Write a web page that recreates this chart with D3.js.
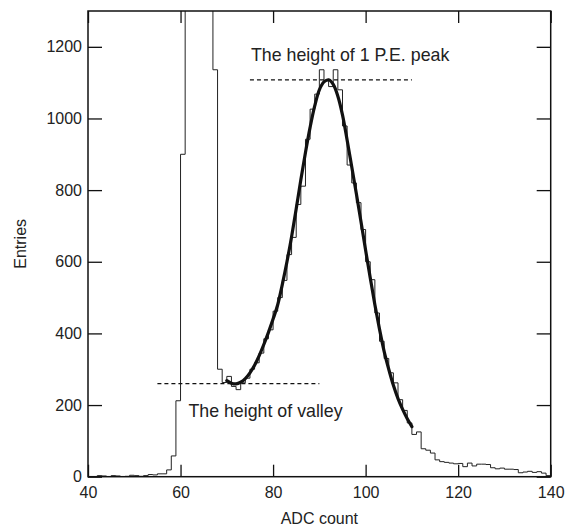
<!DOCTYPE html>
<html>
<head>
<meta charset="utf-8">
<script src="https://cdn.jsdelivr.net/npm/d3@7"></script>
<style>
  body { margin: 0; background: #fff; }
  text { font-family: "Liberation Sans", Arial, sans-serif; fill: #222; }
</style>
</head>
<body>
<div id="chart"></div>
<script>
// histogram: one bin per ADC count, first bin starts at 40
const firstBin = 40;
const counts = [
  0, 0, 3, 2, 0, 3, 2, 0, 1, 4,            // 40-49
  3, 1, 3, 6, 5, 8, 8, 19, 58, 212,        // 50-59
  900, 2600, 6800, 9500, 8200, 5100, 2400, 1136, 300, 263, // 60-69
  280, 252, 243, 262, 275, 300, 318, 345, 385, 410,        // 70-79
  462, 500, 548, 620, 668, 760, 811, 942, 1026, 1068,      // 80-89
  1136, 1105, 1089, 1136, 1080, 979, 870, 820, 765, 690,   // 90-99
  600, 550, 457, 378, 330, 290, 262, 215, 185, 150,        // 100-109
  118, 125, 78, 74, 66, 47, 42, 40, 38, 36,                // 110-119
  37, 28, 38, 30, 35, 35, 34, 25, 22, 24,                  // 120-129
  21, 21, 20, 11, 13, 15, 12, 14, 10, 3                    // 130-139
];

// fitted curve
const fitAdc = [70, 71, 72, 73, 74, 75, 76, 77, 78, 79, 80, 81, 82, 83, 84, 85, 86, 87, 88, 89,
  90, 91, 92, 93, 94, 95, 96, 97, 98, 99, 100, 101, 102, 103, 104, 105, 106, 107, 108, 109, 110];
const fitValue = [268, 261, 259, 264, 274, 290, 311, 338, 369, 403, 440, 480, 537, 600, 670, 748, 829, 905, 975, 1035,
  1080, 1102, 1108, 1095, 1062, 1010, 940, 865, 790, 712, 632, 555, 480, 412, 350, 300, 255, 218, 188, 162, 140];

// dashed reference lines
const peakLine = { from: 75, to: 110, value: 1108 };
const valleyLine = { from: 55, to: 90, value: 260 };

const xTicks = [40, 60, 80, 100, 120, 140];
const yTicks = [0, 200, 400, 600, 800, 1000, 1200];

const w = 568, h = 529;
const mLeft = 88, mRight = 550.7, mTop = 11, mBottom = 476.7;

const x = d3.scaleLinear().domain([40, 140]).range([mLeft, mRight]);
const y = d3.scaleLinear().domain([0, 1300]).range([mBottom, mTop]);

const svg = d3.select("#chart").append("svg")
  .attr("width", w)
  .attr("height", h);

svg.append("clipPath").attr("id", "plotclip")
  .append("rect")
  .attr("x", mLeft).attr("y", mTop)
  .attr("width", mRight - mLeft).attr("height", mBottom - mTop);

// histogram as a step line
const steps = counts.map((c, i) => [firstBin + i, c]);
steps.unshift([firstBin, 0]);
steps.push([firstBin + counts.length, 0]);

const stepLine = d3.line()
  .x(d => x(d[0]))
  .y(d => y(d[1]))
  .curve(d3.curveStepAfter);

svg.append("path")
  .datum(steps)
  .attr("clip-path", "url(#plotclip)")
  .attr("fill", "none")
  .attr("stroke", "#222")
  .attr("stroke-width", 1)
  .attr("d", stepLine);

// fit curve
const fitLine = d3.line()
  .x(d => x(d[0]))
  .y(d => y(d[1]))
  .curve(d3.curveCatmullRom);

svg.append("path")
  .datum(fitAdc.map((a, i) => [a, fitValue[i]]))
  .attr("fill", "none")
  .attr("stroke", "#111")
  .attr("stroke-width", 3.2)
  .attr("stroke-linecap", "round")
  .attr("d", fitLine);

// dashed lines
[peakLine, valleyLine].forEach(l => {
  svg.append("line")
    .attr("x1", x(l.from)).attr("x2", x(l.to))
    .attr("y1", y(l.value)).attr("y2", y(l.value))
    .attr("stroke", "#111")
    .attr("stroke-width", 1.2)
    .attr("stroke-dasharray", "4,3");
});

svg.append("text")
  .attr("x", x(peakLine.from) + 1)
  .attr("y", y(peakLine.value) - 19)
  .attr("font-size", 17.8)
  .text("The height of 1 P.E. peak");

svg.append("text")
  .attr("x", x(valleyLine.from) + 31)
  .attr("y", y(valleyLine.value) + 33)
  .attr("font-size", 17.8)
  .text("The height of valley");

// axes, ticks pointing inwards
const xAxis = d3.axisBottom(x).tickValues(xTicks).tickSizeInner(-12).tickSizeOuter(0).tickPadding(10);
const xTop = d3.axisTop(x).tickValues(xTicks).tickSizeInner(-12).tickSizeOuter(0).tickFormat("");
const yAxis = d3.axisLeft(y).tickValues(yTicks).tickFormat(d3.format("d"))
  .tickSizeInner(-14).tickSizeOuter(0).tickPadding(6);
const yRight = d3.axisRight(y).tickValues(yTicks).tickSizeInner(-14).tickSizeOuter(0).tickFormat("");

const gx = svg.append("g").attr("transform", `translate(0,${mBottom})`).call(xAxis);
svg.append("g").attr("transform", `translate(0,${mTop})`).call(xTop);
const gy = svg.append("g").attr("transform", `translate(${mLeft},0)`).call(yAxis);
svg.append("g").attr("transform", `translate(${mRight},0)`).call(yRight);

svg.selectAll(".domain").remove();
svg.selectAll(".tick line").attr("stroke", "#111").attr("stroke-width", 1.3);
gx.selectAll("text").attr("font-size", 16).attr("fill", "#222");
gy.selectAll("text").attr("font-size", 16).attr("fill", "#222");

svg.append("rect")
  .attr("x", mLeft).attr("y", mTop)
  .attr("width", mRight - mLeft).attr("height", mBottom - mTop)
  .attr("fill", "none")
  .attr("stroke", "#111")
  .attr("stroke-width", 1.5);

svg.append("text")
  .attr("x", (mLeft + mRight) / 2)
  .attr("y", 524)
  .attr("text-anchor", "middle")
  .attr("font-size", 16)
  .text("ADC count");

svg.append("text")
  .attr("transform", `translate(26,${(mTop + mBottom) / 2}) rotate(-90)`)
  .attr("text-anchor", "middle")
  .attr("font-size", 16)
  .text("Entries");
</script>
</body>
</html>
